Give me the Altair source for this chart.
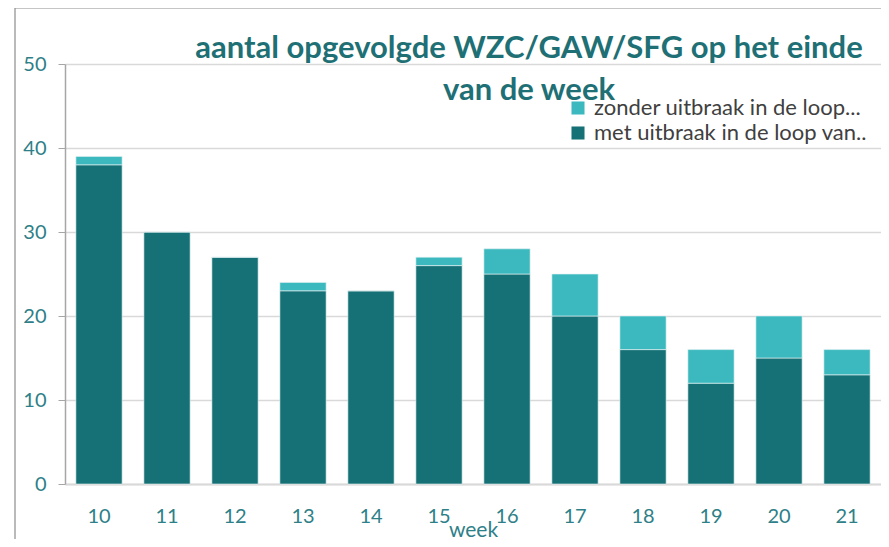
import altair as alt
import pandas as pd

weeks = ["10", "11", "12", "13", "14", "15", "16", "17", "18", "19", "20", "21"]
met = [38, 30, 27, 23, 23, 26, 25, 20, 16, 12, 15, 13]
zonder = [1, 0, 0, 1, 0, 1, 3, 5, 4, 4, 5, 3]
series = ["zonder uitbraak in de loop...", "met uitbraak in de loop van.."]
colors = ["#3BB9BF", "#167176"]
title_lines = ["aantal opgevolgde WZC/GAW/SFG op het einde", "van de week"]

rows = []
for w, m, z in zip(weeks, met, zonder):
    rows.append({"week": w, "serie": series[1], "value": m, "ord": 0})
    rows.append({"week": w, "serie": series[0], "value": z, "ord": 1})
df = pd.DataFrame(rows)

teal_txt = "#2E8088"
font = "Lato"
one = alt.Data(values=[{"k": 1}])

bars = alt.Chart(df).mark_bar(stroke="#e8f4f4", strokeWidth=0.6).encode(
    x=alt.X("week:N", sort=weeks, title="week",
            scale=alt.Scale(paddingInner=0.32, paddingOuter=0.16),
            axis=alt.Axis(labelAngle=0, ticks=False, labelPadding=22,
                          labelFontSize=20, labelColor=teal_txt, labelFont=font,
                          titleFontSize=21, titleColor=teal_txt, titleFont=font,
                          titleFontWeight="normal", titlePadding=-7,
                          domainColor="#d9d9d9", domainWidth=2, grid=False)),
    y=alt.Y("value:Q", title=None, stack="zero",
            scale=alt.Scale(domain=[0, 50]),
            axis=alt.Axis(values=[0, 10, 20, 30, 40, 50], tickSize=7,
                          tickColor="#a6a6a6", labelPadding=12,
                          labelFontSize=20, labelColor=teal_txt, labelFont=font,
                          domainColor="#a6a6a6", domainWidth=1.5,
                          gridColor="#d9d9d9", gridWidth=1.5)),
    color=alt.Color("serie:N", scale=alt.Scale(domain=series, range=colors),
                    legend=alt.Legend(title=None, orient="none", legendX=502, legendY=33,
                                      symbolType="square", symbolSize=170,
                                      symbolStrokeWidth=0, labelFontSize=22,
                                      labelFont=font, labelColor="#404040",
                                      labelLimit=400, rowPadding=3, labelOffset=5)),
    order=alt.Order("ord:Q", sort="ascending"),
)

frame_left = alt.Chart(one).mark_rule(color="#8c8c8c", strokeWidth=1.2).encode(
    x=alt.value(-50), y=alt.value(-56), y2=alt.value(480))
frame_top = alt.Chart(one).mark_rule(color="#8c8c8c", strokeWidth=1.2).encode(
    x=alt.value(-50), x2=alt.value(816), y=alt.value(-56))

title1 = alt.Chart(one).mark_text(fontSize=31, font=font, fontWeight="bold",
                                  color="#1E7075", baseline="alphabetic", align="center").encode(
    x=alt.value(464), y=alt.value(-6), text=alt.value(title_lines[0]))
title2 = alt.Chart(one).mark_text(fontSize=31, font=font, fontWeight="bold",
                                  color="#1E7075", baseline="alphabetic", align="center").encode(
    x=alt.value(464), y=alt.value(36), text=alt.value(title_lines[1]))

chart = alt.layer(frame_left, frame_top, bars, title1, title2).properties(
    width=816, height=420,
    autosize=alt.AutoSizeParams(type="none"),
    padding={"left": 57, "top": 56, "right": 0, "bottom": 55},
).configure_view(stroke=None)

chart.save("out.html", embed_options={"renderer": "svg", "actions": False})
